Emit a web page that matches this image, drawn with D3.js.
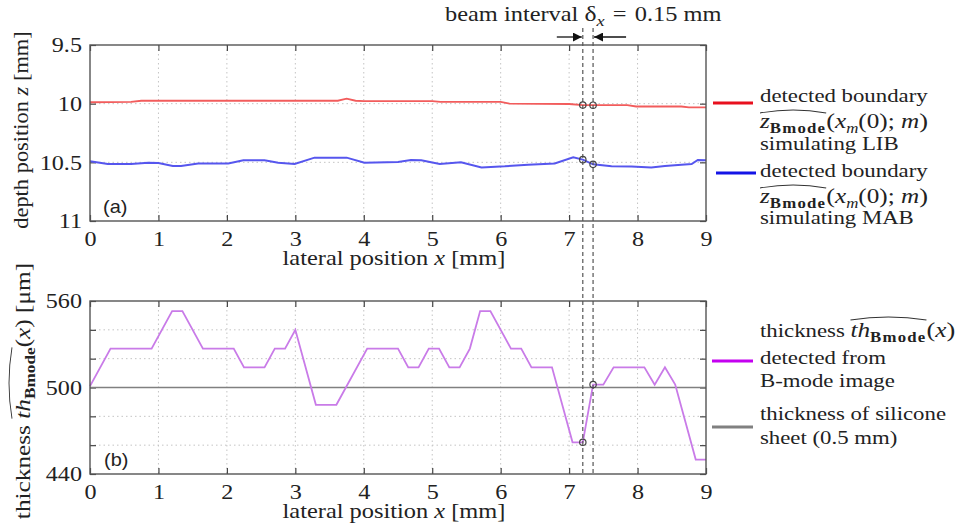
<!DOCTYPE html>
<html>
<head>
<meta charset="utf-8">
<script src="https://cdn.jsdelivr.net/npm/d3@7"></script>
<style>
    body { margin: 0; background: #fff; }
    svg { display: block; }
</style>
</head>
<body>
<svg id="chart" width="970" height="528"></svg>
<script>
// ---- data ----
const xTicks = [0, 1, 2, 3, 4, 5, 6, 7, 8, 9];
const zTicks = [9.5, 10, 10.5, 11];
const thTicks = [440, 460, 480, 500, 520, 540, 560];
const thLabels = [440, 500, 560];

// (a) detected boundary simulating LIB (red)
const libX = [0, 0.6, 0.75, 3.62, 3.75, 3.88, 4.0, 5.0, 5.12, 6.0, 6.13, 7.0, 7.2, 7.35, 7.85, 7.98, 8.64, 8.75, 9.0];
const libZ = [9.988, 9.984, 9.975, 9.975, 9.958, 9.975, 9.978, 9.978, 9.985, 9.985, 10.0, 10.003, 10.012, 10.013, 10.012, 10.024, 10.024, 10.032, 10.032];

// (a) detected boundary simulating MAB (blue)
const mabX = [0, 0.26, 0.6, 0.85, 1.0, 1.21, 1.33, 1.58, 2.02, 2.24, 2.55, 2.75, 2.99, 3.28, 3.75, 4.01, 4.5, 4.69, 4.84, 5.11, 5.42, 5.72, 6.06, 6.4, 6.79, 7.06, 7.2, 7.35, 7.62, 7.91, 8.2, 8.4, 8.64, 8.79, 8.88, 9.0];
const mabZ = [10.491, 10.514, 10.514, 10.503, 10.505, 10.531, 10.531, 10.509, 10.509, 10.483, 10.483, 10.503, 10.514, 10.46, 10.46, 10.503, 10.497, 10.48, 10.482, 10.514, 10.5, 10.543, 10.534, 10.52, 10.509, 10.457, 10.477, 10.517, 10.534, 10.536, 10.543, 10.531, 10.52, 10.515, 10.48, 10.483];

// (b) thickness detected from B-mode image (um)
const thX = [0, 0.3, 0.9, 1.2, 1.35, 1.65, 2.1, 2.25, 2.55, 2.7, 2.85, 3.0, 3.3, 3.6, 4.05, 4.5, 4.65, 4.8, 4.95, 5.1, 5.25, 5.4, 5.55, 5.7, 5.85, 6.15, 6.3, 6.45, 6.75, 7.05, 7.2, 7.35, 7.5, 7.65, 8.1, 8.25, 8.4, 8.55, 8.85, 9.0];
const thV = [501, 527, 527, 553, 553, 527, 527, 514, 514, 527, 527, 540, 488, 488, 527, 527, 514, 514, 527, 527, 514, 514, 527, 553, 553, 527, 527, 514, 514, 462, 462, 502, 502, 514, 514, 502, 514, 502, 450, 450];

const siliconeTh = 500;       // silicone sheet thickness (um)
const beamX = [7.2, 7.35];    // adjacent beams, interval 0.15 mm

// ---- layout ----
const SERIF = "'Liberation Serif','Times New Roman',serif";
const SANS = "'Liberation Sans',Arial,sans-serif";
const SX = 1.2;   // the figure's type is set wide
const plotL = 90, plotR = 706;
const topA = 45, botA = 221;
const topB = 301, botB = 474;

const svg = d3.select("#chart");

const xs = d3.scaleLinear().domain([0, 9]).range([plotL, plotR]);
const zs = d3.scaleLinear().domain([9.5, 11]).range([topA, botA]);
const ts = d3.scaleLinear().domain([440, 560]).range([botB, topB]);

// text made of tspans, optional hat over a run of parts
function label(parent, x, y, parts, o) {
    o = o || {};
    const sx = o.sx === undefined ? SX : o.sx;
    const g = parent.append("g")
        .attr("transform", "translate(" + x + "," + y + ")" +
            (o.rotate ? " rotate(" + o.rotate + ")" : "") +
            " scale(" + sx + ",1)");
    const t = g.append("text")
        .attr("font-family", o.family || SERIF)
        .attr("font-size", o.size || 20)
        .attr("fill", o.fill || "#222")
        .attr("text-anchor", o.anchor || "start");
    let shift = 0;
    const nodes = [];
    parts.forEach(function (p) {
        if (typeof p === "string") p = {t: p};
        const want = p.sub || 0;
        const s = t.append("tspan").text(p.t).attr("dy", want - shift);
        shift = want;
        if (p.i) s.attr("font-style", "italic");
        if (p.b) s.attr("font-weight", "bold");
        if (p.size) s.attr("font-size", p.size);
        if (p.ls) s.attr("letter-spacing", p.ls);
        nodes.push(s.node());
    });
    if (o.hat) {
        const na = nodes[o.hat[0]], nb = nodes[o.hat[1]];
        const x0 = na.getStartPositionOfChar(0).x;
        const x1 = nb.getEndPositionOfChar(nb.getNumberOfChars() - 1).x;
        const h = -o.hat[2];
        g.append("path")
            .attr("d", "M" + x0 + "," + h + " Q" + ((x0 + x1) / 2) + "," + (h - 6) + " " + x1 + "," + h)
            .attr("fill", "none")
            .attr("stroke", "#333")
            .attr("stroke-width", 0.9);
    }
    return g;
}

function styleAxis(g, labels) {
    g.select(".domain").remove();
    g.selectAll(".tick line").attr("stroke", "#444").attr("stroke-width", 1.2);
    g.selectAll("text")
        .attr("font-family", SERIF)
        .attr("font-size", 21)
        .attr("fill", "#222")
        .attr("transform", labels ? "scale(1.15,1)" : null);
}

function panel(top, bot, yScale, yTicks, yGrid, yFormat) {
    const g = svg.append("g");
    // dotted grid
    g.selectAll(".vgrid")
        .data(xTicks.slice(1, -1))
        .enter()
        .append("line")
        .attr("x1", function (d) { return xs(d); })
        .attr("x2", function (d) { return xs(d); })
        .attr("y1", top)
        .attr("y2", bot)
        .attr("stroke", "#c4c4c4")
        .attr("stroke-dasharray", "1.5,3");
    g.selectAll(".hgrid")
        .data(yGrid)
        .enter()
        .append("line")
        .attr("x1", plotL)
        .attr("x2", plotR)
        .attr("y1", function (d) { return yScale(d); })
        .attr("y2", function (d) { return yScale(d); })
        .attr("stroke", "#c4c4c4")
        .attr("stroke-dasharray", "1.5,3");

    g.append("g").attr("transform", "translate(0," + bot + ")")
        .call(d3.axisBottom(xs).tickValues(xTicks).tickSize(-6).tickPadding(10))
        .call(styleAxis, true);
    g.append("g").attr("transform", "translate(0," + top + ")")
        .call(d3.axisTop(xs).tickValues(xTicks).tickSize(-6).tickFormat(""))
        .call(styleAxis, false);
    g.append("g").attr("transform", "translate(" + plotL + ",0)")
        .call(d3.axisLeft(yScale).tickValues(yTicks).tickSize(-6).tickPadding(7).tickFormat(yFormat))
        .call(styleAxis, true);
    g.append("g").attr("transform", "translate(" + plotR + ",0)")
        .call(d3.axisRight(yScale).tickValues(yTicks).tickSize(-6).tickFormat(""))
        .call(styleAxis, false);
    return g;
}

// ---- panel (a) ----
const pa = panel(topA, botA, zs, zTicks, [10, 10.5], function (d) { return d; });

const lineA = d3.line()
    .x(function (d) { return xs(d[0]); })
    .y(function (d) { return zs(d[1]); });

pa.append("path")
    .datum(d3.zip(libX, libZ))
    .attr("d", lineA)
    .attr("fill", "none")
    .attr("stroke", "#f25c5c")
    .attr("stroke-width", 1.8);

pa.append("path")
    .datum(d3.zip(mabX, mabZ))
    .attr("d", lineA)
    .attr("fill", "none")
    .attr("stroke", "#5656ee")
    .attr("stroke-width", 2);

pa.append("rect")
    .attr("x", plotL).attr("y", topA)
    .attr("width", plotR - plotL).attr("height", botA - topA)
    .attr("fill", "none").attr("stroke", "#555").attr("stroke-width", 1.4);

label(svg, 103, 213, ["(a)"], {family: SANS, size: 19, sx: 1.05});

// ---- panel (b) ----
const pb = panel(topB, botB, ts, thTicks, [460, 480, 520, 540], function (d) {
    return thLabels.indexOf(d) >= 0 ? d : "";
});

pb.append("line")
    .attr("x1", plotL).attr("x2", plotR)
    .attr("y1", ts(siliconeTh)).attr("y2", ts(siliconeTh))
    .attr("stroke", "#808080").attr("stroke-width", 1.6);

pb.append("path")
    .datum(d3.zip(thX, thV))
    .attr("d", d3.line()
        .x(function (d) { return xs(d[0]); })
        .y(function (d) { return ts(d[1]); }))
    .attr("fill", "none")
    .attr("stroke", "#c97be8")
    .attr("stroke-width", 1.8);

pb.append("rect")
    .attr("x", plotL).attr("y", topB)
    .attr("width", plotR - plotL).attr("height", botB - topB)
    .attr("fill", "none").attr("stroke", "#555").attr("stroke-width", 1.4);

label(svg, 104, 466, ["(b)"], {family: SANS, size: 19, sx: 1.05});

// ---- beam interval markers ----
svg.selectAll(".beam")
    .data(beamX)
    .enter()
    .append("line")
    .attr("x1", function (d) { return xs(d); })
    .attr("x2", function (d) { return xs(d); })
    .attr("y1", 28)
    .attr("y2", botB)
    .attr("stroke", "#555")
    .attr("stroke-width", 1.2)
    .attr("stroke-dasharray", "4,3");

function valueAt(xArr, vArr, x) {
    return vArr[xArr.indexOf(x)];
}

const circles = [];
beamX.forEach(function (b) {
    circles.push([xs(b), zs(valueAt(libX, libZ, b))]);
    circles.push([xs(b), zs(valueAt(mabX, mabZ, b))]);
    circles.push([xs(b), ts(valueAt(thX, thV, b))]);
});
svg.selectAll(".pt")
    .data(circles)
    .enter()
    .append("circle")
    .attr("cx", function (d) { return d[0]; })
    .attr("cy", function (d) { return d[1]; })
    .attr("r", 3.2)
    .attr("fill", "none")
    .attr("stroke", "#444")
    .attr("stroke-width", 1.2);

svg.append("defs").append("marker")
    .attr("id", "head")
    .attr("viewBox", "0 0 10 10")
    .attr("refX", 10).attr("refY", 5)
    .attr("markerWidth", 9).attr("markerHeight", 9)
    .attr("markerUnits", "userSpaceOnUse")
    .attr("orient", "auto")
    .append("path")
    .attr("d", "M0,0 L10,5 L0,10 Z")
    .attr("fill", "#111");

svg.append("line")
    .attr("x1", xs(beamX[0]) - 26).attr("x2", xs(beamX[0]) - 1)
    .attr("y1", 37).attr("y2", 37)
    .attr("stroke", "#111").attr("stroke-width", 1.3)
    .attr("marker-end", "url(#head)");
svg.append("line")
    .attr("x1", xs(beamX[1]) + 33).attr("x2", xs(beamX[1]) + 1)
    .attr("y1", 37).attr("y2", 37)
    .attr("stroke", "#111").attr("stroke-width", 1.3)
    .attr("marker-end", "url(#head)");

label(svg, 445, 21, ["beam interval ", {t: "\u03b4", size: 21}, {t: "x", i: 1, sub: 5, size: 15},
    {t: "\u2004=\u20040.15 mm", sub: 0}], {sx: 1.22});

// ---- axis titles ----
label(svg, 394, 265, ["lateral position ", {t: "x", i: 1}, " [mm]"], {anchor: "middle", sx: 1.22});
label(svg, 394, 518, ["lateral position ", {t: "x", i: 1}, " [mm]"], {anchor: "middle", sx: 1.22});
label(svg, 28, 130, ["depth position ", {t: "z", i: 1}, " [mm]"], {anchor: "middle", rotate: -90, size: 22, sx: 1.02});
label(svg, 30, 391, ["thickness ", {t: "th", i: 1}, {t: "Bmode", b: 1, sub: 5, size: 15}, {t: "(", sub: 0}, {t: "x", i: 1}, ") [\u03bcm]"],
    {anchor: "middle", rotate: -90, size: 22, sx: 1.15, hat: [1, 2, 18]});

// ---- legend ----
const legendLines = [
    {x1: 713, x2: 753, y: 103, color: "#e8101e"},
    {x1: 716, x2: 756, y: 173, color: "#1414e6"},
    {x1: 712, x2: 753, y: 361, color: "#c400f0"},
    {x1: 712, x2: 753, y: 427, color: "#808080"}
];
svg.selectAll(".leg")
    .data(legendLines)
    .enter()
    .append("line")
    .attr("x1", function (d) { return d.x1; })
    .attr("x2", function (d) { return d.x2; })
    .attr("y1", function (d) { return d.y; })
    .attr("y2", function (d) { return d.y; })
    .attr("stroke", function (d) { return d.color; })
    .attr("stroke-width", 3.2);

const zHat = [{t: "z", i: 1, size: 21}, {t: "Bmode", b: 1, sub: 5, size: 14, ls: 1}, {t: "(", sub: 0, size: 22},
    {t: "x", i: 1, size: 21}, {t: "m", i: 1, sub: 5, size: 14}, {t: "(0); ", sub: 0, size: 21},
    {t: "m", i: 1, size: 21}, {t: ")", size: 22}];
const LS = 19;
label(svg, 760, 102, ["detected boundary"], {size: LS});
label(svg, 760, 128, zHat, {size: LS, hat: [0, 1, 15]});
label(svg, 760, 150, ["simulating LIB"], {size: LS});
label(svg, 760, 177, ["detected boundary"], {size: LS});
label(svg, 760, 203, zHat, {size: LS, hat: [0, 1, 15]});
label(svg, 760, 224, ["simulating MAB"], {size: LS});

label(svg, 760, 337, ["thickness ", {t: "th", i: 1, size: 21}, {t: "Bmode", b: 1, sub: 5, size: 14, ls: 1},
    {t: "(", sub: 0, size: 22}, {t: "x", i: 1, size: 21}, {t: ")", size: 22}],
    {size: LS, hat: [1, 2, 17]});
label(svg, 760, 364, ["detected from"], {size: LS});
label(svg, 760, 387, ["B-mode image"], {size: LS});
label(svg, 760, 420, ["thickness of silicone"], {size: LS});
label(svg, 760, 444, ["sheet (0.5 mm)"], {size: LS});
</script>
</body>
</html>
